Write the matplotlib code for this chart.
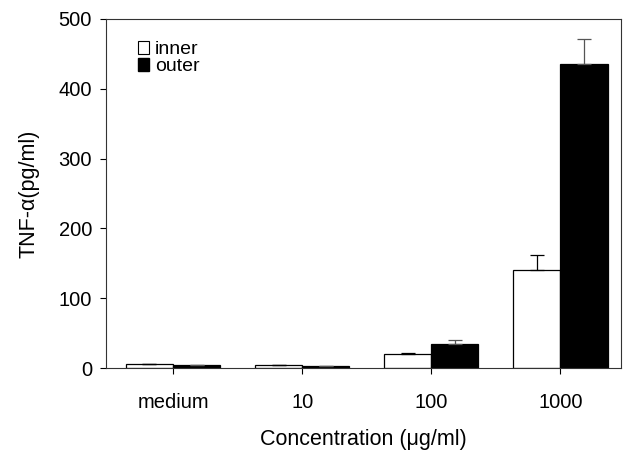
import numpy as np
import matplotlib.pyplot as plt
from matplotlib.patches import Patch

plt.rcParams['font.family'] = ['Liberation Sans', 'DejaVu Sans']

# data
categories = ["medium", "10", "100", "1000"]
inner = [6, 4, 20, 141]
inner_err = [0, 0, 1.5, 21]
outer = [4, 3, 35, 436]
outer_err = [0, 0, 5, 35]

x = np.arange(len(categories))
w = 0.365

fig = plt.figure(figsize=(6.23, 4.51), dpi=100)
ax = fig.add_axes([0.170, 0.184, 0.827, 0.774])

ax.bar(x - w / 2, inner, w, color='white', edgecolor='black', linewidth=0.9,
       yerr=[np.zeros(len(inner)), inner_err], capsize=5,
       error_kw=dict(elinewidth=0.9, capthick=0.9, ecolor='black'))
ax.bar(x + w / 2, outer, w, color='black', edgecolor='black', linewidth=0.9,
       yerr=[np.zeros(len(outer)), outer_err], capsize=5,
       error_kw=dict(elinewidth=0.9, capthick=0.9, ecolor='#555555'))

ax.set_xlim(-0.52, 3.47)
ax.set_ylim(0, 500)
ax.set_yticks([0, 100, 200, 300, 400, 500])
ax.set_xticks(x)
ax.set_xticklabels(categories)
ax.tick_params(axis='both', labelsize=14.5, length=4, width=0.8, direction='out')
ax.tick_params(axis='x', pad=14)
ax.tick_params(axis='y', pad=6)
for s in ax.spines.values():
    s.set_linewidth(0.8)
    s.set_color('#333333')

ax.set_ylabel("TNF-\u03b1(pg/ml)", fontsize=15.5, labelpad=14)
ax.set_xlabel("Concentration (\u03bcg/ml)", fontsize=15.5, labelpad=12)

handles = [Patch(facecolor='white', edgecolor='black', linewidth=0.8, label='inner'),
           Patch(facecolor='black', edgecolor='black', label='outer')]
ax.legend(handles=handles, loc='upper left', bbox_to_anchor=(0.035, 0.975),
          frameon=False, fontsize=14, handlelength=0.6, handleheight=0.6,
          handletextpad=0.3, labelspacing=0.0, borderpad=0.2)

fig.savefig("out.png", dpi=100)
